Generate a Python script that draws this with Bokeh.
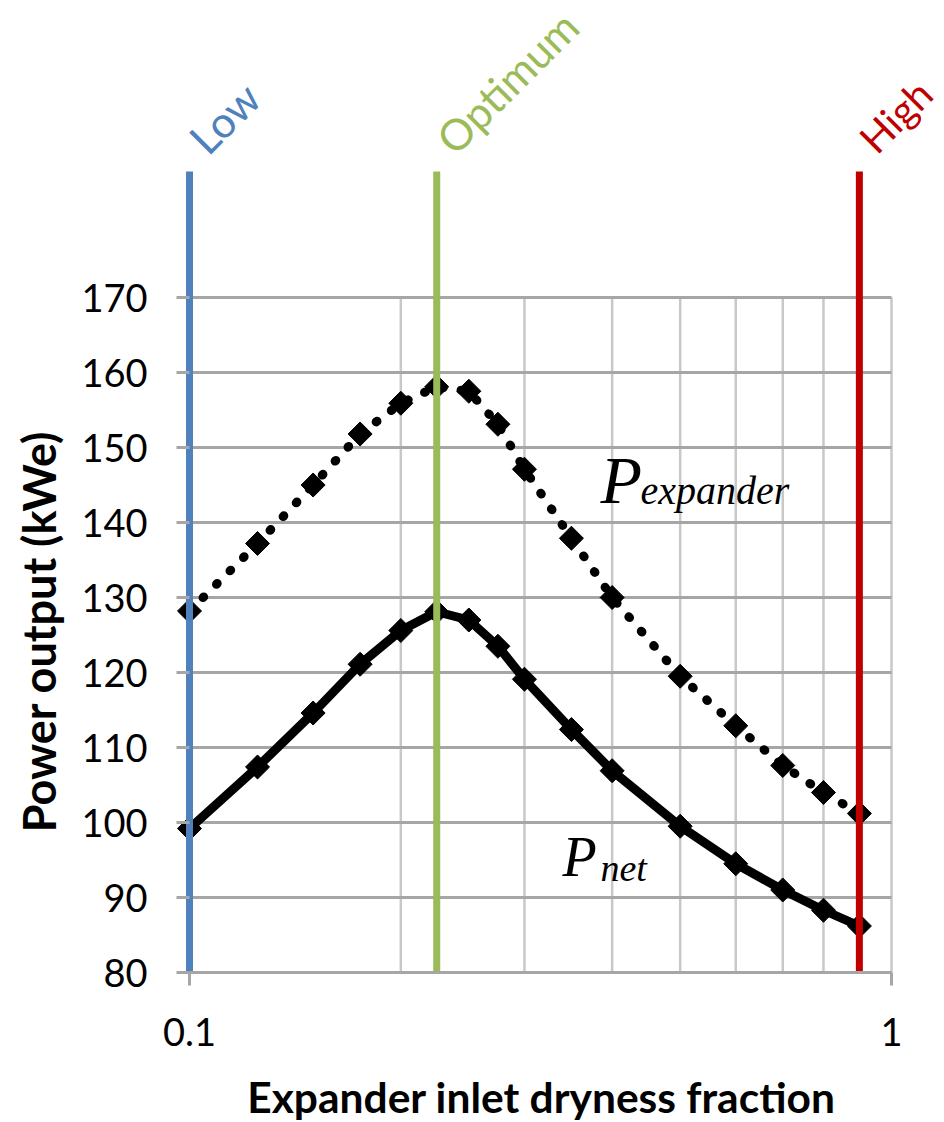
from math import pi, log10
from bokeh.plotting import figure
from bokeh.models import FixedTicker, Label, CustomJSTickFormatter, Range1d
from bokeh.embed import file_html
from bokeh.resources import INLINE

# ---- data ----
dryness = [0.1, 0.125, 0.15, 0.175, 0.2, 0.225, 0.25, 0.275, 0.3, 0.35, 0.4, 0.5, 0.6, 0.7, 0.8, 0.9]
p_expander = [128.2, 137.2, 145.0, 151.8, 155.9, 158.1, 157.5, 153.1, 147.1, 137.9, 130.0, 119.5, 112.9, 107.6, 104.0, 101.2]
p_net = [99.2, 107.4, 114.6, 121.1, 125.6, 128.1, 127.0, 123.5, 119.1, 112.4, 106.9, 99.5, 94.5, 91.0, 88.3, 86.2]

y_ticks = [80, 90, 100, 110, 120, 130, 140, 150, 160, 170]
x_major_ticks = [0.1, 1.0]
x_grid_ticks = [0.2, 0.3, 0.4, 0.5, 0.6, 0.7, 0.8, 0.9, 1.0]

case_names = ["Low", "Optimum", "High"]
case_x = [0.1, 0.225, 0.9]
case_colors = ["#4F81BD", "#9BBB59", "#C00000"]
case_top = 186.8

x_title = "Expander inlet dryness fraction"
y_title = "Power output (kWe)"

# ---- layout: the frame fills the whole canvas, axes are pinned inside it ----
W, H = 944, 1122
X0_PX, Y0_PX = 189, 972     # canvas position of (0.1, 80)
PX_DEC = 702.0              # pixels per decade on x
PX_Y = 7.5                  # pixels per unit on y
x_start = 10 ** (log10(x_major_ticks[0]) - X0_PX / PX_DEC)
x_end = 10 ** (log10(x_major_ticks[0]) + (W - X0_PX) / PX_DEC)
y_start = y_ticks[0] - (H - Y0_PX) / PX_Y
y_end = y_ticks[0] + Y0_PX / PX_Y


def y_at(px):
    """data y of a canvas row"""
    return y_ticks[0] + (Y0_PX - px) / PX_Y


p = figure(width=W, height=H, x_axis_type="log",
           x_range=Range1d(x_start, x_end), y_range=Range1d(y_start, y_end),
           output_backend="svg", toolbar_location=None,
           min_border_left=0, min_border_right=0, min_border_top=0, min_border_bottom=0)
p.outline_line_color = None
p.background_fill_color = "white"
p.border_fill_color = "white"

grid_col = "#A6A6A6"
vgrid_col = "#C8C8C8"

# grid lines limited to the 0.1..1 x 80..170 box
p.segment(x0=x_grid_ticks, y0=[y_ticks[0]] * len(x_grid_ticks), x1=x_grid_ticks,
          y1=[y_ticks[-1]] * len(x_grid_ticks), line_color=vgrid_col, line_width=2.5)
p.segment(x0=[x_major_ticks[0]] * len(y_ticks), y0=y_ticks, x1=[x_major_ticks[-1]] * len(y_ticks),
          y1=y_ticks, line_color=grid_col, line_width=3)
p.xgrid.grid_line_color = None
p.ygrid.grid_line_color = None

# data
p.line(dryness, p_expander, line_color="black", line_width=9, line_dash="1 18", line_cap="round")
p.scatter(dryness, p_expander, marker="square", size=17, angle=pi / 4, color="black")
p.line(dryness, p_net, line_color="black", line_width=9, line_join="round")
p.scatter(dryness, p_net, marker="square", size=17, angle=pi / 4, color="black")

# case lines
p.segment(x0=case_x, y0=[y_ticks[0]] * 3, x1=case_x, y1=[case_top] * 3,
          line_color=case_colors, line_width=7)
case_sizes = ["43px", "43px", "40px"]
for name, xv, col, fs in zip(case_names, case_x, case_colors, case_sizes):
    p.add_layout(Label(x=xv, y=y_at(145), x_offset=7, text=name, angle=pi / 4,
                       text_color=col, text_font="Lato", text_font_size=fs,
                       text_baseline="middle", text_align="left"))


# P labels (anchored at the middle of the text box: baseline minus 0.3375 em)
def serif(x, baseline_px, t, size):
    p.add_layout(Label(x=x, y=y_at(baseline_px - 0.3375 * size), text=t,
                       text_font="Liberation Serif", text_font_style="italic",
                       text_font_size=f"{size}px", text_baseline="middle", text_color="black"))


serif(0.385, 502, "P", 68)
serif(0.439, 503, "expander", 40)
serif(0.340, 875, "P", 56)
serif(0.385, 880, "net", 38)

# axes (pinned at x=0.1 and y=80)
xa = p.xaxis[0]
xa.fixed_location = y_ticks[0]
xa.bounds = (x_major_ticks[0], x_major_ticks[-1])
xa.ticker = FixedTicker(ticks=x_major_ticks, minor_ticks=[])
xa.formatter = CustomJSTickFormatter(code="return String(tick);")
xa.axis_line_color = grid_col
xa.axis_line_width = 3
xa.major_tick_line_color = grid_col
xa.major_tick_line_width = 3
xa.major_tick_out = 13
xa.major_tick_in = 0
xa.minor_tick_line_color = None
xa.major_label_text_font = "Lato"
xa.major_label_text_font_size = "38px"
xa.major_label_text_color = "black"
xa.major_label_standoff = 32

ya = p.yaxis[0]
ya.fixed_location = x_major_ticks[0]
ya.bounds = (y_ticks[0], y_ticks[-1])
ya.ticker = FixedTicker(ticks=y_ticks, minor_ticks=[])
ya.axis_line_color = None
ya.major_tick_line_color = grid_col
ya.major_tick_line_width = 3
ya.major_tick_out = 13
ya.major_tick_in = 0
ya.minor_tick_line_color = None
ya.major_label_text_font = "Lato"
ya.major_label_text_font_size = "38px"
ya.major_label_text_color = "black"
ya.major_label_standoff = 29

# axis titles (screen units, measured from the frame's bottom-left corner)
p.add_layout(Label(x=38, y=H - 631, x_units="screen", y_units="screen", text=y_title,
                   angle=pi / 2, text_align="center", text_baseline="middle",
                   text_font="Lato", text_font_size="45px", text_font_style="bold",
                   text_color="black"))
p.add_layout(Label(x=541, y=H - 1096, x_units="screen", y_units="screen", text=x_title,
                   text_align="center", text_baseline="middle",
                   text_font="Lato", text_font_size="42.5px", text_font_style="bold",
                   text_color="black"))

open("out.html", "w").write(file_html(p, INLINE))
